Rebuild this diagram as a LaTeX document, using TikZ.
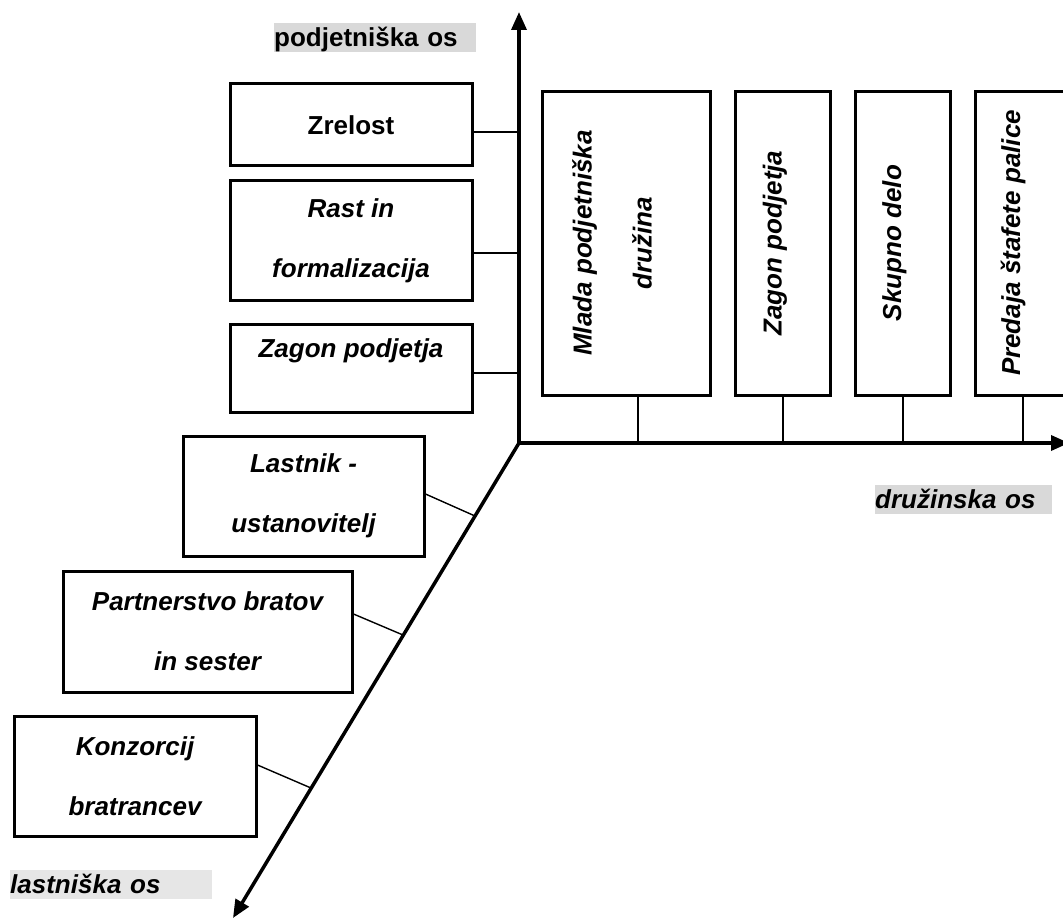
\documentclass[tikz,border=0pt]{standalone}
\usepackage{fontspec}
\setmainfont{Liberation Sans}
\usetikzlibrary{arrows.meta,calc}
\definecolor{hlA}{HTML}{D9D9D9}
\definecolor{hlB}{HTML}{E6E6E6}
\begin{document}
\begin{tikzpicture}[x=1pt,y=-1pt,
  box/.style={draw, line width=3pt, inner sep=0pt, align=center,
    font=\fontsize{26}{60}\selectfont\bfseries\itshape},
  rtext/.style={inner sep=0pt, align=center, rotate=90,
    font=\fontsize{26}{60}\selectfont\bfseries\itshape},
  ltext/.style={inner sep=0pt, align=center,
    font=\fontsize{26}{60}\selectfont\bfseries\itshape},
  conn/.style={line width=1.4pt},
  axis/.style={line width=3.5pt, {Triangle[length=18pt,width=15pt]}-{Triangle[length=18pt,width=15pt]}},
  axisone/.style={line width=3.5pt, -{Triangle[length=18pt,width=15pt]}},
  axlab/.style={inner sep=0pt, text height=23.5pt, text depth=5.5pt, align=left,
    anchor=north west, font=\fontsize{26}{30}\selectfont\bfseries}
]
\useasboundingbox (0,0) rectangle (1063,920);

% axis points
\coordinate (O) at (519,443);
\coordinate (vtop) at (519,12);
\coordinate (hright) at (1069,443);
\coordinate (dtip) at (233,918);
\coordinate (a1) at (519,132);
\coordinate (a2) at (519,253);
\coordinate (a3) at (519,373);
\coordinate (b1) at (638,443);
\coordinate (b2) at (783,443);
\coordinate (b3) at (903,443);
\coordinate (b4) at (1023,443);
\coordinate (d1) at (475,516);
\coordinate (d2) at (403,635);
\coordinate (d3) at (311,788);

% left (enterprise axis) boxes
\node[box, minimum width=242pt, minimum height=82pt,
  font=\fontsize{26}{60}\selectfont\bfseries] (zr) at (351,125) {Zrelost};
\node[box, minimum width=242pt, minimum height=119pt] (rf) at (351,240.5) {Rast in\\formalizacija};
\node[box, minimum width=242pt, minimum height=88pt] (zp) at (351,368) {};
\node[ltext] (zpT) at (351,351) {Zagon podjetja};

% ownership axis boxes
\node[box, minimum width=241pt, minimum height=120pt] (ls) at (303.5,496) {Lastnik -\\ustanovitelj};
\node[box, minimum width=289pt, minimum height=121pt] (pb) at (207.5,631.5) {Partnerstvo bratov\\in sester};
\node[box, minimum width=242pt, minimum height=120pt] (kb) at (135,776) {Konzorcij\\bratrancev};

% family axis boxes
\node[box, minimum width=168pt, minimum height=303pt] (ml) at (626,243.5) {};
\node[box, minimum width=95pt, minimum height=303pt] (zg) at (782.5,243.5) {};
\node[box, minimum width=95pt, minimum height=303pt] (sk) at (902.5,243.5) {};
\node[box, minimum width=100pt, minimum height=303pt] (pr) at (1025,243.5) {};
\node[rtext] (mlT) at (612,243) {Mlada podjetniška\\družina};
\node[rtext] (zgT) at (775,243) {Zagon podjetja};
\node[rtext] (skT) at (894.5,243) {Skupno delo};
\node[rtext] (prT) at (1013,243) {Predaja štafete palice};

% connectors
\draw[conn] (zr.east |- a1) -- (a1);
\draw[conn] (rf.east |- a2) -- (a2);
\draw[conn] (zp.east |- a3) -- (a3);
\draw[conn] (ml.south -| b1) -- (b1);
\draw[conn] (zg.south -| b2) -- (b2);
\draw[conn] (sk.south -| b3) -- (b3);
\draw[conn] (pr.south -| b4) -- (b4);
\draw[conn] ($(ls.east)+(0,-2)$) -- (d1);
\draw[conn] ($(pb.east)+(0,-17.5)$) -- (d2);
\draw[conn] ($(kb.east)+(0,-11)$) -- (d3);

% axes
\draw[axis] (vtop) -- (O) -- (hright);
\draw[axisone] (O) -- (dtip);

% axis labels
\node[axlab, fill=hlA, text width=202pt] (lp) at (274,22.5) {podjetniška os};
\node[axlab, fill=hlA, text width=177pt,
  font=\fontsize{26}{30}\selectfont\bfseries\itshape] (ld) at (875,484.5) {družinska os};
\node[axlab, fill=hlB, text width=202pt,
  font=\fontsize{26}{30}\selectfont\bfseries\itshape] (ll) at (10,869.5) {lastniška os};
\end{tikzpicture}
\end{document}
